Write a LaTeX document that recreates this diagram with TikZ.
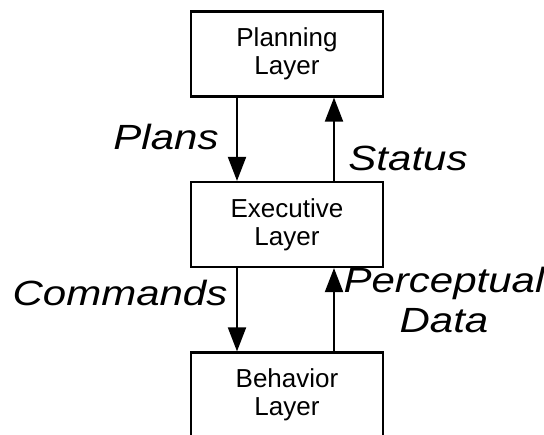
\documentclass[tikz,border=0pt]{standalone}
\usepackage{fontspec}
\setmainfont{Liberation Sans}
\newfontfamily\labelfont{Liberation Sans}[FakeStretch=1.2]
\usetikzlibrary{arrows.meta,positioning}

\begin{document}
\begin{tikzpicture}[x=1pt,y=-1pt]
		\tikzstyle{layer_style} = [rectangle,draw=black,line width=2.2pt,minimum width=192pt,minimum height=85pt,align=center,inner sep=0pt,font=\fontsize{26}{28}\selectfont]
		\tikzstyle{arrow_style} = [draw=black,line width=2pt,-{Triangle[width=18pt,length=24pt]}]
		\tikzstyle{label_style} = [align=center,inner sep=0pt,font=\labelfont\itshape\fontsize{35}{40}\selectfont]
		\clip (0,0) rectangle (544,435);
		\node[layer_style] (plan) at (287,54) {Planning\\Layer};
		\node[layer_style] (exec) at (287,224.5) {Executive\\Layer};
		\node[layer_style] (behav) at (287,395) {Behavior\\Layer};
		\draw[arrow_style] ([xshift=-50pt]plan.south) -- ([xshift=-50pt]exec.north);
		\draw[arrow_style] ([xshift=47pt]exec.north) -- ([xshift=47pt]plan.south);
		\draw[arrow_style] ([xshift=-50pt]exec.south) -- ([xshift=-50pt]behav.north);
		\draw[arrow_style] ([xshift=47pt]behav.north) -- ([xshift=47pt]exec.south);
		\node[label_style] (plans) at (166,137) {Plans};
		\node[label_style] (status) at (408,158) {Status};
		\node[label_style] (commands) at (120,293) {Commands};
		\node[label_style] (percept) at (444,300) {Perceptual\\Data};
\end{tikzpicture}
\end{document}
